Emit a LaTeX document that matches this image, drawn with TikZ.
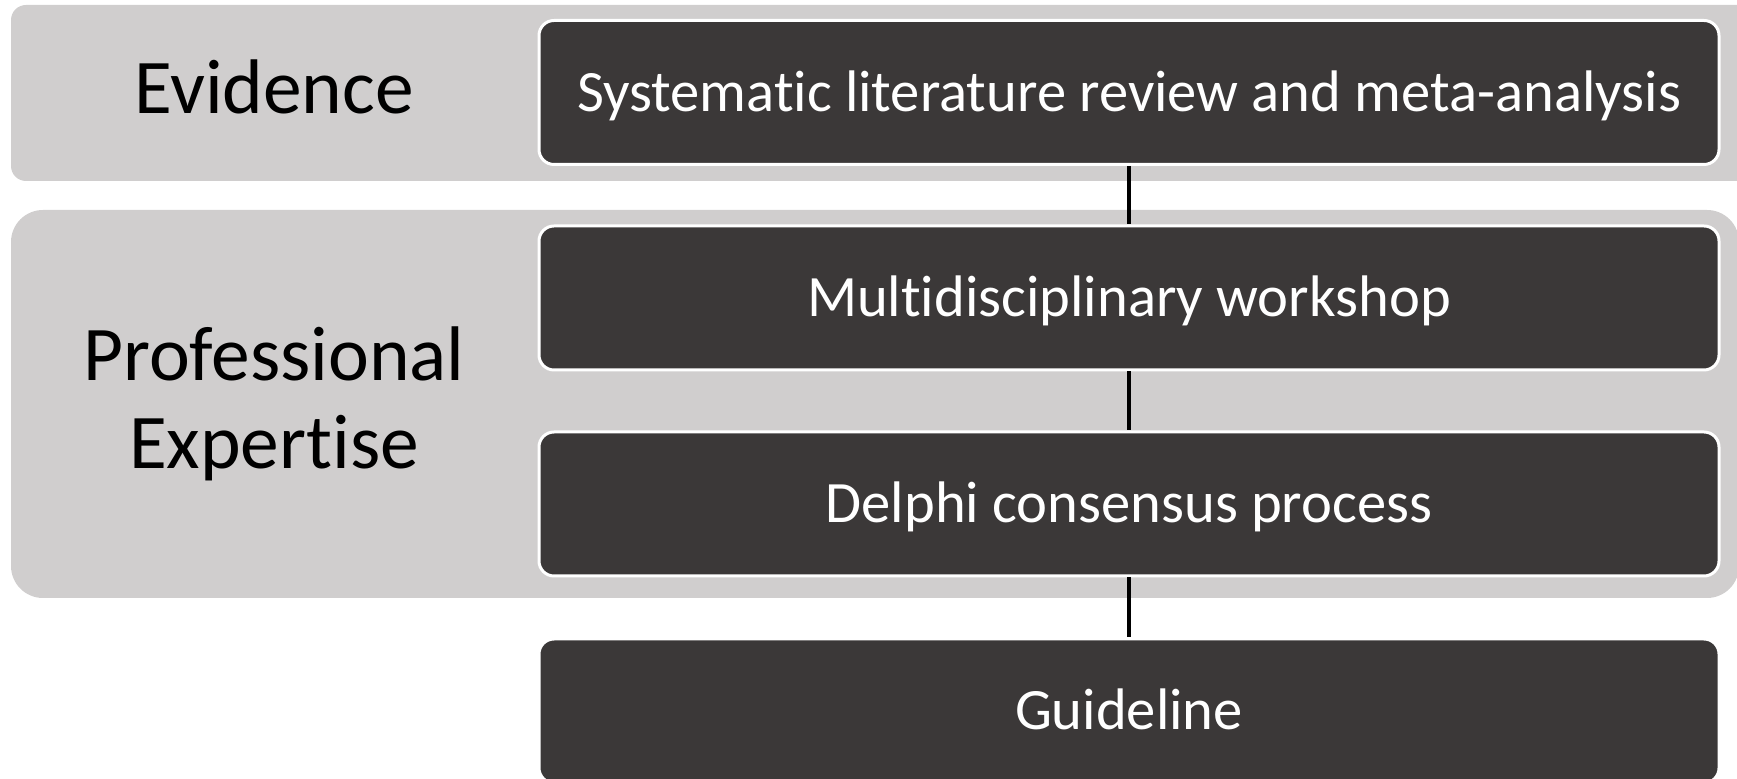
\documentclass[tikz,border=0pt]{standalone}
\usepackage{fontspec}
\setmainfont{Carlito}[Ligatures=NoCommon]
\definecolor{panelgray}{HTML}{D0CECE}
\definecolor{boxdark}{HTML}{3B3838}

\begin{document}
\begin{tikzpicture}[x=0.5pt,y=-0.5pt,
  stepbox/.style={rectangle, rounded corners=7.5pt, fill=boxdark, draw=white,
    line width=1.5pt, minimum width=590pt, minimum height=72pt, inner sep=0pt,
    text=white, font=\fontsize{29.3}{35}\selectfont, text height=19pt, text depth=0pt},
  side/.style={font=\fontsize{38.7}{44}\selectfont, align=center, text=black, inner sep=0pt},
  link/.style={draw=black, line width=2pt}]
\useasboundingbox (0,0) rectangle (1737,779);
\clip (0,0) rectangle (1737,779);

% background bands
\fill[panelgray, rounded corners=7.5pt] (11,5) rectangle (1775,181);
\fill[panelgray, rounded corners=16pt] (11,210) rectangle (1739,598);

% band labels
\node[side, anchor=base] (ev) at (274,114) {Evidence};
\node[side, anchor=base] (pe) at (274,469) {Professional\\Expertise};

% process steps
\node[stepbox] (slr) at (1129,92.5) {Systematic literature review and meta-analysis};
\node[stepbox] (mdw) at (1129,298) {Multidisciplinary workshop};
\node[stepbox] (dcp) at (1129,504) {Delphi consensus process};
\node[stepbox] (gdl) at (1129,711) {Guideline};

% connectors
\draw[link] (slr) -- (mdw);
\draw[link] (mdw) -- (dcp);
\draw[link] (dcp) -- (gdl);
\end{tikzpicture}
\end{document}
